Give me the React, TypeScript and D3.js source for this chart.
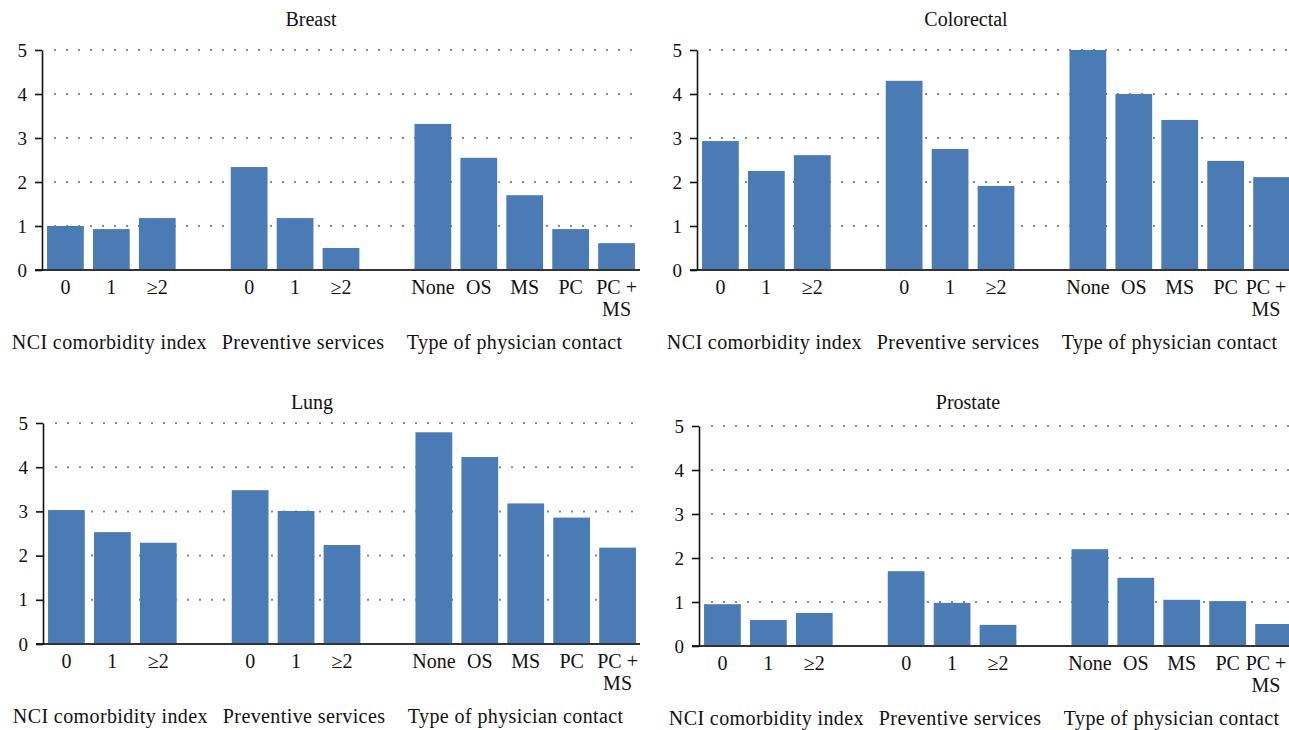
import React, { useEffect, useRef } from 'react';
import * as d3 from 'd3';

// category labels per group
const nciLabels = ['0', '1', '≥2'];
const preventiveLabels = ['0', '1', '≥2'];
const contactLabels = ['None', 'OS', 'MS', 'PC', 'PC + MS'];
const groupLabels = ['NCI comorbidity index', 'Preventive services', 'Type of physician contact'];
const yTicks = [0, 1, 2, 3, 4, 5];

// values: nci (3), preventive (3), contact (5)
const breastValues = [1.0, 0.93, 1.18, 2.34, 1.18, 0.5, 3.32, 2.55, 1.7, 0.93, 0.61];
const colorectalValues = [2.93, 2.25, 2.61, 4.3, 2.75, 1.91, 5.0, 4.0, 3.41, 2.48, 2.11];
const lungValues = [3.03, 2.53, 2.29, 3.48, 3.01, 2.24, 4.79, 4.23, 3.18, 2.86, 2.18];
const prostateValues = [0.95, 0.59, 0.75, 1.7, 0.98, 0.48, 2.2, 1.55, 1.05, 1.02, 0.5];

const BAR = '#4b7bb4';
const FONT = '"Liberation Serif", "Times New Roman", serif';
const W = 1289;
const H = 730;
// group captions sit a little off their bar groups in the source figure
const groupLabelShift = [-2, 8, -10];

// slots for the band scale, with an empty slot between groups
const groups = [nciLabels, preventiveLabels, contactLabels];
const slots: string[] = [];
const barSlots: { slot: string; label: string; group: number }[] = [];
groups.forEach((labels, g) => {
  labels.forEach((label, i) => {
    const key = `g${g}-${i}`;
    slots.push(key);
    barSlots.push({ slot: key, label, group: g });
  });
  if (g < groups.length - 1) slots.push(`gap${g}`);
});

interface PanelProps {
  title: string;
  values: number[];
  left: number;
  top: number;
  bottom: number;
  right: number;
  titleY: number;
}

const Panel = ({ title, values, left, top, bottom, right, titleY }: PanelProps): JSX.Element => {
  const axisLeftRef = useRef<SVGGElement>(null);

  const x = d3
    .scaleBand<string>()
    .domain(slots)
    .range([left, left + 598])
    .paddingInner(0.2)
    .paddingOuter(0.11);
  const y = d3.scaleLinear().domain([0, 5]).range([bottom, top]);

  useEffect(() => {
    const el = d3.select(axisLeftRef.current);
    el.selectAll('*').remove();
    el.call(d3.axisLeft(y).tickValues(yTicks).tickSize(7).tickSizeOuter(0).tickPadding(8).tickFormat(d3.format('d')));
    el.select('.domain').attr('stroke', '#111').attr('stroke-width', 1.6);
    el.selectAll('.tick line').attr('stroke', '#111').attr('stroke-width', 1.6);
    el.selectAll('.tick text')
      .attr('fill', '#111')
      .style('font-family', FONT)
      .style('font-size', '19px');
  }, [y]);

  const groupCenter = (g: number) => {
    const items = barSlots.filter((b) => b.group === g);
    const first = x(items[0].slot) as number;
    const last = (x(items[items.length - 1].slot) as number) + x.bandwidth();
    return (first + last) / 2;
  };

  return (
    <g>
      <text x={left + 269} y={titleY} textAnchor="middle" fontFamily={FONT} fontSize={20} fill="#111">
        {title}
      </text>
      {/* dotted grid */}
      {yTicks
        .filter((t) => t > 0)
        .map((t) => (
          <line
            key={t}
            x1={left + 12}
            x2={right}
            y1={y(t)}
            y2={y(t)}
            stroke="#8a8a8a"
            strokeWidth={2}
            strokeDasharray="2 10"
          />
        ))}
      {barSlots.map((b, i) => (
        <rect
          key={b.slot}
          x={x(b.slot)}
          y={y(values[i])}
          width={x.bandwidth()}
          height={bottom - y(values[i])}
          fill={BAR}
        />
      ))}
      <line x1={left - 7} x2={right} y1={bottom} y2={bottom} stroke="#333" strokeWidth={2} />
      <g ref={axisLeftRef} transform={`translate(${left},0)`} />
      {barSlots.map((b) => {
        // keep labels inside the picture at the right edge
        const cx = Math.min((x(b.slot) as number) + x.bandwidth() / 2, W - 23);
        const cut = b.label.lastIndexOf(' ');
        const lines = b.label.length > 4 ? [b.label.slice(0, cut), b.label.slice(cut + 1)] : [b.label];
        return (
          <text key={`l-${b.slot}`} textAnchor="middle" fontFamily={FONT} fontSize={20} fill="#111">
            {lines.map((ln, k) => (
              <tspan key={k} x={cx} y={bottom + 24 + k * 22}>
                {ln}
              </tspan>
            ))}
          </text>
        );
      })}
      {groupLabels.map((g, i) => (
        <text
          key={g}
          x={groupCenter(i) + groupLabelShift[i]}
          y={bottom + 79}
          textAnchor="middle"
          fontFamily={FONT}
          fontSize={20}
          letterSpacing={0.4}
          fill="#111"
        >
          {g}
        </text>
      ))}
    </g>
  );
};

export default function App(): JSX.Element {
  return (
    <div style={{ position: 'absolute', left: 0, top: 0, background: '#fff' }}>
      <svg width={W} height={H} style={{ display: 'block' }}>
        <rect width={W} height={H} fill="#fff" />
        <Panel title="Breast" values={breastValues} left={42} top={50} bottom={270} right={640} titleY={26} />
        <Panel title="Colorectal" values={colorectalValues} left={697} top={50} bottom={270} right={W} titleY={26} />
        <Panel title="Lung" values={lungValues} left={43} top={423} bottom={644} right={640} titleY={409} />
        <Panel title="Prostate" values={prostateValues} left={699} top={426} bottom={646} right={W} titleY={409} />
      </svg>
    </div>
  );
}
